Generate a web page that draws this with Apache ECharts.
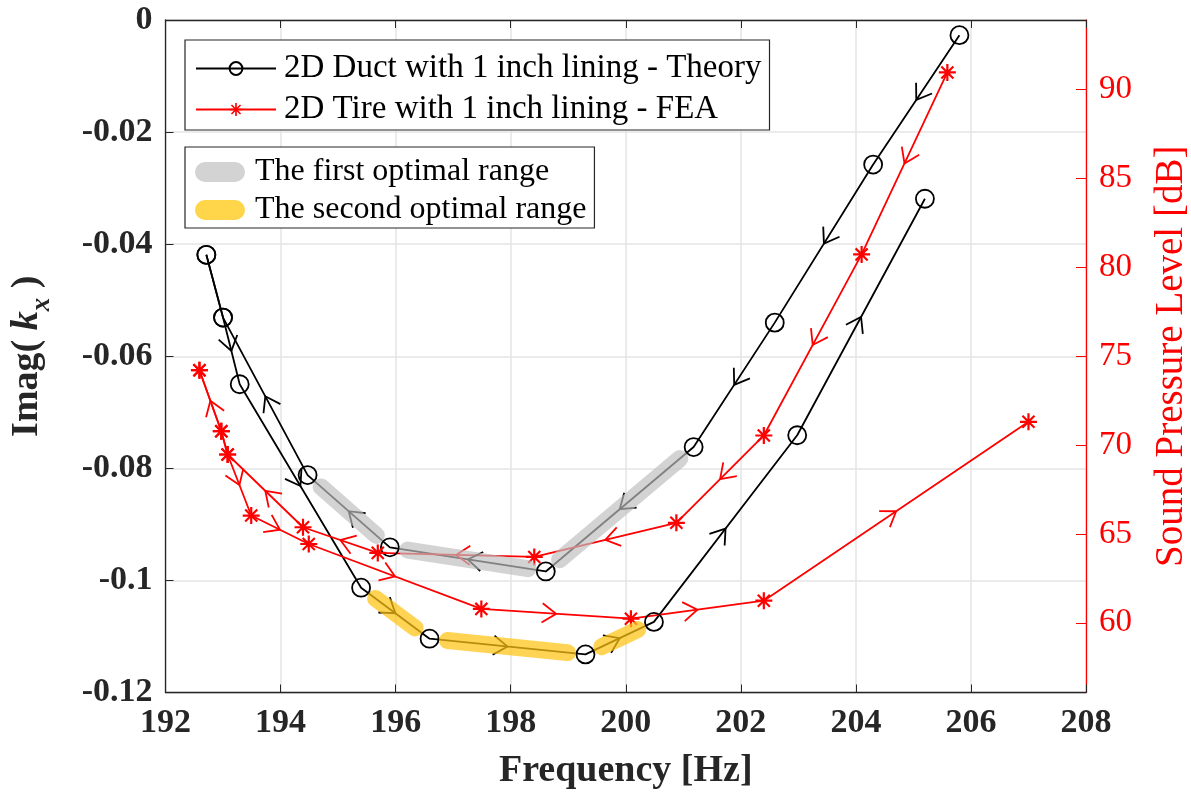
<!DOCTYPE html>
<html>
<head>
<meta charset="utf-8">
<title>Imag(kx) and SPL vs frequency</title>
<script src="https://cdn.jsdelivr.net/npm/echarts@6/dist/echarts.min.js"></script>
<style>
  html, body { margin: 0; padding: 0; background: #fff; }
  #chart { width: 1191px; height: 797px; }
</style>
</head>
<body>
<div id="chart"></div>
<script>
// theory (black, left axis) - sweep down then sweep up
var duDownFreq = [205.80, 204.30, 202.59, 201.18, 198.61, 195.90, 194.47, 193.00, 192.71];
var duDownImag = [-0.0027, -0.0258, -0.0540, -0.0762, -0.0984, -0.0941, -0.0812, -0.0531, -0.0419];
var duUpFreq = [192.71, 193.00, 193.29, 195.40, 196.59, 199.30, 200.49, 202.98, 205.20];
var duUpImag = [-0.0419, -0.0531, -0.0650, -0.1013, -0.1104, -0.1132, -0.1074, -0.0741, -0.0319];

// FEA (red, right axis)
var feDownFreq = [205.59, 204.10, 202.40, 200.88, 198.41, 195.69, 194.39, 193.08, 192.97, 192.59];
var feDownSpl = [90.94, 80.71, 70.53, 65.62, 63.70, 63.93, 65.37, 69.46, 70.77, 74.20];
var feUpFreq = [192.59, 192.97, 193.08, 193.49, 194.49, 197.49, 200.09, 202.40, 207.00];
var feUpSpl = [74.20, 70.77, 69.46, 66.03, 64.43, 60.78, 60.23, 61.24, 71.30];

// highlighted ranges on the theory curve
var firstRangeFreq = [194.47, 195.90, 198.61, 201.18];
var firstRangeImag = [-0.0812, -0.0941, -0.0984, -0.0762];
var secondRangeFreq = [195.40, 196.59, 199.30, 200.49];
var secondRangeImag = [-0.1013, -0.1104, -0.1132, -0.1074];

var splTicks = [60, 65, 70, 75, 80, 85, 90];

var NAME_DU = '2D Duct with 1 inch lining - Theory';
var NAME_FE = '2D Tire with 1 inch lining - FEA';
var NAME_R1 = 'The first optimal range';
var NAME_R2 = 'The second optimal range';

var SERIF = '"Liberation Serif", "Times New Roman", serif';
var AXIS_COLOR = '#262626';
var STAR = 'path://M8.7 0H11.3V20H8.7Z M0 8.7H20V11.3H0Z M2.0 3.8L3.8 2.0L18.0 16.2L16.2 18.0Z M16.2 2.0L18.0 3.8L3.8 18.0L2.0 16.2Z';
var CAPSULE = 'path://M10 0H40A10 10 0 0 1 40 20H10A10 10 0 0 1 10 0Z';

function zip(xs, ys) {
    return xs.map(function (x, i) { return [x, ys[i]]; });
}

// segments between consecutive points, some skipped
function segments(xs, ys, skip) {
    var out = [];
    for (var i = 0; i < xs.length - 1; i++) {
        if (skip.indexOf(i) >= 0) continue;
        out.push([xs[i], ys[i], xs[i + 1], ys[i + 1]]);
    }
    return out;
}

function curve(name, xs, ys, color, yIdx, symbol, size, filled) {
    return {
        type: 'line',
        name: name,
        yAxisIndex: yIdx,
        data: zip(xs, ys),
        symbol: symbol,
        symbolSize: size,
        showAllSymbol: true,
        z: 2,
        lineStyle: { color: color, width: 1.8 },
        itemStyle: filled ? { color: color } : { color: 'rgba(255,255,255,0)', borderColor: color, borderWidth: 1.8 },
        emphasis: { disabled: true }
    };
}

// open arrow head in the middle of every segment
function arrows(xs, ys, skip, color, yIdx) {
    return {
        type: 'custom',
        yAxisIndex: yIdx,
        z: 3,
        silent: true,
        encode: { x: [0, 2], y: [1, 3] },
        data: segments(xs, ys, skip),
        renderItem: function (params, api) {
            var a = api.coord([api.value(0), api.value(1)]);
            var b = api.coord([api.value(2), api.value(3)]);
            var mx = (a[0] + b[0]) / 2, my = (a[1] + b[1]) / 2;
            var ang = Math.atan2(b[1] - a[1], b[0] - a[0]);
            var L = 17, w = 0.6;
            return {
                type: 'polyline',
                shape: { points: [
                    [mx - L * Math.cos(ang - w), my - L * Math.sin(ang - w)],
                    [mx, my],
                    [mx - L * Math.cos(ang + w), my - L * Math.sin(ang + w)]
                ] },
                style: { stroke: color, lineWidth: 1.8, fill: null }
            };
        }
    };
}

// thick translucent band over the segments
function band(name, xs, ys, stroke, legendColor) {
    return {
        type: 'custom',
        name: name,
        z: 5,
        silent: true,
        itemStyle: { color: legendColor },
        encode: { x: [0, 2], y: [1, 3] },
        data: segments(xs, ys, []),
        renderItem: function (params, api) {
            var a = api.coord([api.value(0), api.value(1)]);
            var b = api.coord([api.value(2), api.value(3)]);
            var dx = b[0] - a[0], dy = b[1] - a[1];
            var t = 18 / Math.sqrt(dx * dx + dy * dy);
            return {
                type: 'line',
                shape: { x1: a[0] + dx * t, y1: a[1] + dy * t, x2: b[0] - dx * t, y2: b[1] - dy * t },
                style: { stroke: stroke, lineWidth: 17, lineCap: 'round' }
            };
        }
    };
}

var chart = echarts.init(document.getElementById('chart'));

var option = {
    animation: false,
    backgroundColor: '#fff',
    grid: { left: 165.5, right: 105, top: 20, bottom: 104.5, containLabel: false, outerBoundsMode: 'none' },
    legend: [{
        left: 185, top: 40,
        orient: 'vertical',
        data: [NAME_DU, NAME_FE],
        selectedMode: false,
        itemWidth: 80, itemHeight: 16, itemGap: 8,
        padding: [12, 8, 4, 10],
        borderColor: AXIS_COLOR, borderWidth: 1.2,
        backgroundColor: '#fff',
        textStyle: { fontFamily: SERIF, fontSize: 33, color: '#000', padding: [0, 0, 0, 3] }
    }, {
        left: 185, top: 147,
        orient: 'vertical',
        data: [NAME_R1, NAME_R2],
        selectedMode: false,
        icon: CAPSULE,
        itemWidth: 50, itemHeight: 22, itemGap: 6,
        padding: [9, 8, 2, 10],
        borderColor: AXIS_COLOR, borderWidth: 1.2,
        backgroundColor: '#fff',
        textStyle: { fontFamily: SERIF, fontSize: 32, color: '#000', padding: [0, 0, 0, 5] }
    }],
    xAxis: [{
        type: 'value',
        position: 'bottom',
        min: 192, max: 208, interval: 2,
        name: 'Frequency [Hz]',
        nameLocation: 'middle',
        nameGap: 60,
        nameTextStyle: { fontFamily: SERIF, fontSize: 38, fontWeight: 'bold', color: AXIS_COLOR },
        axisLine: { show: true, onZero: false, lineStyle: { color: AXIS_COLOR, width: 1.3 } },
        axisTick: { show: true, inside: true, length: 8, lineStyle: { color: AXIS_COLOR } },
        axisLabel: { fontFamily: SERIF, fontSize: 34, fontWeight: 'bold', color: AXIS_COLOR, margin: 14 },
        splitLine: { show: true, lineStyle: { color: '#e4e4e4', width: 1.5 } }
    }, {
        type: 'value',
        position: 'top',
        min: 192, max: 208, interval: 2,
        axisLine: { show: true, onZero: false, lineStyle: { color: AXIS_COLOR, width: 1.3 } },
        axisTick: { show: true, inside: true, length: 8, lineStyle: { color: AXIS_COLOR } },
        axisLabel: { show: false },
        splitLine: { show: false }
    }],
    yAxis: [{
        type: 'value',
        position: 'left',
        min: -0.12, max: 0, interval: 0.02,
        name: '{b|Imag( }{k|k}{s|x}{b| )}',
        nameLocation: 'middle',
        nameRotate: 90,
        nameGap: 110,
        nameTextStyle: {
            rich: {
                b: { fontFamily: SERIF, fontSize: 38, fontWeight: 'bold', color: AXIS_COLOR, padding: [0, 0, 9, 0], verticalAlign: 'bottom' },
                k: { fontFamily: SERIF, fontSize: 38, fontWeight: 'bold', fontStyle: 'italic', color: AXIS_COLOR, padding: [0, 0, 9, 0], verticalAlign: 'bottom' },
                s: { fontFamily: SERIF, fontSize: 27, fontWeight: 'bold', fontStyle: 'italic', color: AXIS_COLOR, verticalAlign: 'bottom' }
            }
        },
        axisLine: { show: true, onZero: false, lineStyle: { color: AXIS_COLOR, width: 1.3 } },
        axisTick: { show: true, inside: true, length: 8, lineStyle: { color: AXIS_COLOR } },
        axisLabel: { fontFamily: SERIF, fontSize: 34, fontWeight: 'bold', color: AXIS_COLOR, margin: 13 },
        splitLine: { show: true, lineStyle: { color: '#e4e4e4', width: 1.5 } }
    }, {
        type: 'value',
        position: 'right',
        min: 56.08, max: 93.89,
        splitNumber: 8,
        name: 'Sound Pressure Level [dB]',
        nameLocation: 'middle',
        nameRotate: 90,
        nameGap: 66,
        nameTextStyle: { fontFamily: SERIF, fontSize: 39, color: '#ff0000' },
        axisLine: { show: true, onZero: false, lineStyle: { color: '#ff0000', width: 1.3 } },
        axisTick: { show: true, inside: true, length: 10, customValues: splTicks, lineStyle: { color: '#ff0000' } },
        axisLabel: {
            fontFamily: SERIF, fontSize: 33, color: '#ff0000', margin: 13,
            customValues: splTicks,
            formatter: function (v) { return Math.abs(v % 5) < 1e-6 ? String(v) : ''; }
        },
        splitLine: { show: false }
    }],
    series: [
        curve(NAME_DU, duDownFreq, duDownImag, '#000', 0, 'circle', 18, false),
        curve(NAME_DU, duUpFreq, duUpImag, '#000', 0, 'circle', 18, false),
        curve(NAME_FE, feDownFreq, feDownSpl, '#ff0000', 1, STAR, 17, true),
        curve(NAME_FE, feUpFreq, feUpSpl, '#ff0000', 1, STAR, 17, true),
        arrows(duDownFreq, duDownImag, [7], '#000', 0),
        arrows(duUpFreq, duUpImag, [0], '#000', 0),
        arrows(feDownFreq, feDownSpl, [7], '#ff0000', 1),
        arrows(feUpFreq, feUpSpl, [0, 1], '#ff0000', 1),
        band(NAME_R1, firstRangeFreq, firstRangeImag, 'rgba(190,190,190,0.68)', '#d3d3d3'),
        band(NAME_R2, secondRangeFreq, secondRangeImag, 'rgba(255,196,20,0.72)', '#ffd54a')
    ]
};

chart.setOption(option);
</script>
</body>
</html>
